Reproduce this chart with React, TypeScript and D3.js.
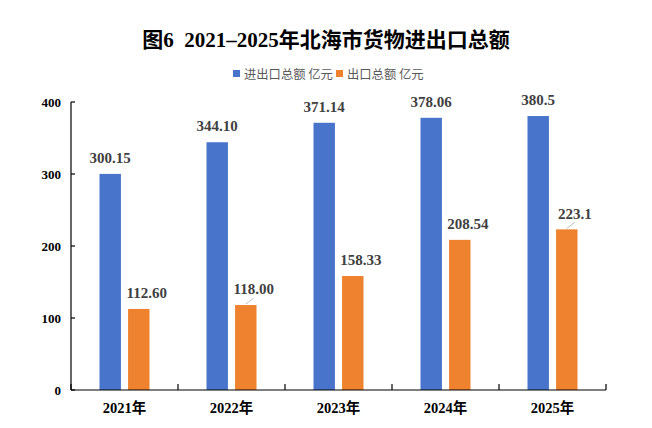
import * as d3 from "d3";

const years = ["2021年", "2022年", "2023年", "2024年", "2025年"];
const totalValues = [300.15, 344.1, 371.14, 378.06, 380.5];
const exportValues = [112.6, 118.0, 158.33, 208.54, 223.1];
const totalLabels = ["300.15", "344.10", "371.14", "378.06", "380.5"];
const exportLabels = ["112.60", "118.00", "158.33", "208.54", "223.1"];
const exportLeader = [false, true, false, false, true];
const yTicks = [0, 100, 200, 300, 400];
const seriesNames = ["进出口总额 亿元", "出口总额 亿元"];

const W = 652;
const H = 428;
const colors = ["#4874CB", "#EE822F"];
const serif = "'Liberation Serif', 'Times New Roman', 'Noto Sans CJK SC', serif";
const sans = "'Noto Sans CJK SC', 'Noto Sans', sans-serif";

export default function App() {
  const x = d3.scaleBand().domain(years).range([71, 606]).padding(0);
  const y = d3.scaleLinear().domain([0, 400]).range([390, 102]);
  const inner = d3
    .scaleBand<number>()
    .domain([0, 1])
    .range([-25, 25])
    .paddingInner(0.25)
    .paddingOuter(0);
  const bw = inner.bandwidth();
  const series = [totalValues, exportValues];
  const labels = [totalLabels, exportLabels];

  return (
    <div style={{ position: "absolute", left: 0, top: 0 }}>
      <svg width={W} height={H} style={{ display: "block", background: "#fff" }}>
        <text
          x={326}
          y={47}
          textAnchor="middle"
          fontFamily={serif}
          fontWeight="bold"
          fontSize={21}
          fill="#000"
          style={{ whiteSpace: "pre" }}
        >
          {"图6  2021–2025年北海市货物进出口总额"}
        </text>

        {/* legend */}
        <g fontFamily={sans} fontSize={12.3} fill="#595959">
          <rect x={233} y={70} width={7} height={7} fill={colors[0]} />
          <text x={244} y={78.5}>{seriesNames[0]}</text>
          <rect x={336} y={70} width={7} height={7} fill={colors[1]} />
          <text x={347} y={78.5}>{seriesNames[1]}</text>
        </g>

        {/* y axis */}
        <line x1={71} x2={71} y1={y(400)} y2={y(0)} stroke="#000" strokeWidth={1.2} />
        {yTicks.map((t) => (
          <g key={t}>
            <line x1={71} x2={75} y1={y(t)} y2={y(t)} stroke="#000" strokeWidth={1.2} />
            <text
              x={61}
              y={y(t)}
              dy="0.35em"
              textAnchor="end"
              fontFamily={serif}
              fontWeight="bold"
              fontSize={13}
              fill="#000"
            >
              {t}
            </text>
          </g>
        ))}

        {/* bars */}
        {series.map((vals, si) =>
          years.map((yr, i) => {
            const cx = (x(yr) || 0) + x.bandwidth() / 2;
            const bx = cx + (inner(si) || 0);
            return (
              <rect
                key={`${si}-${yr}`}
                x={bx}
                y={y(vals[i])}
                width={bw}
                height={y(0) - y(vals[i])}
                fill={colors[si]}
              />
            );
          })
        )}

        {/* x axis */}
        <line x1={71} x2={606} y1={y(0)} y2={y(0)} stroke="#000" strokeWidth={1.2} />
        {[...years.map((yr) => x(yr) || 0), 606].map((tx, i) => (
          <line key={i} x1={tx} x2={tx} y1={y(0)} y2={y(0) - 6} stroke="#000" strokeWidth={1.2} />
        ))}
        {years.map((yr) => (
          <text
            key={yr}
            x={(x(yr) || 0) + x.bandwidth() / 2}
            y={413}
            textAnchor="middle"
            fontFamily={serif}
            fontWeight="bold"
            fontSize={14.5}
            fill="#000"
          >
            {yr}
          </text>
        ))}

        {/* data labels */}
        {series.map((vals, si) =>
          years.map((yr, i) => {
            const cx = (x(yr) || 0) + x.bandwidth() / 2 + (inner(si) || 0) + bw / 2;
            const top = y(vals[i]);
            const dx = si === 0 ? 0 : 8;
            return (
              <g key={`l-${si}-${yr}`}>
                {si === 1 && exportLeader[i] && (
                  <line
                    x1={cx}
                    y1={top - 1}
                    x2={cx + 8}
                    y2={top - 7}
                    stroke="#BFBFBF"
                    strokeWidth={1}
                  />
                )}
                <text
                  x={cx + dx}
                  y={top - 16}
                  dy="0.35em"
                  textAnchor="middle"
                  fontFamily={serif}
                  fontWeight="bold"
                  fontSize={15}
                  fill="#404040"
                >
                  {labels[si][i]}
                </text>
              </g>
            );
          })
        )}
      </svg>
    </div>
  );
}
